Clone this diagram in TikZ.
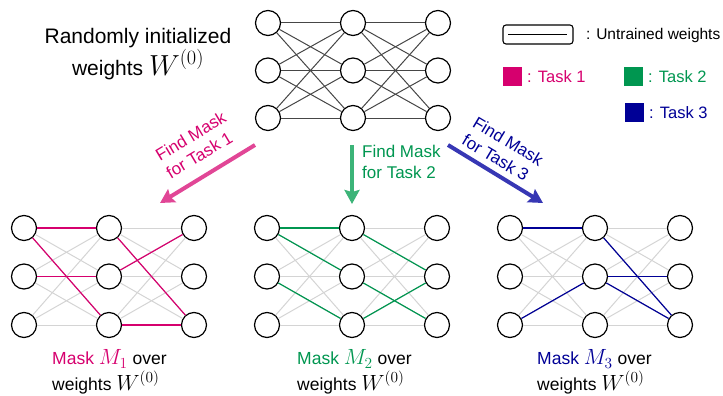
\RequirePackage{fix-cm}
\documentclass[tikz,border=0pt]{standalone}
\usepackage{fontspec}
\setmainfont{Liberation Sans}
\usetikzlibrary{arrows.meta}
\definecolor{tone}{RGB}{214,0,110}
\definecolor{ttwo}{RGB}{0,150,80}
\definecolor{tthree}{RGB}{0,0,150}
\definecolor{aone}{RGB}{225,70,150}
\definecolor{atwo}{RGB}{60,180,120}
\definecolor{athree}{RGB}{55,55,180}
\definecolor{edgedark}{RGB}{70,70,70}
\definecolor{edgelight}{RGB}{212,212,212}
\newcommand{\bigmath}[1]{{\fontsize{29}{32}\selectfont$#1$}}
\newcommand{\midmath}[1]{{\fontsize{22}{26}\selectfont$#1$}}
\tikzset{
  neuron/.style={circle,draw=black,line width=1.2pt,minimum size=25pt,inner sep=0pt,fill=white},
  darkedge/.style={draw=edgedark,line width=1pt},
  lightedge/.style={draw=edgelight,line width=1pt},
  maskedge/.style={line width=1.2pt},
  bigarrow/.style={line width=4pt,-{Stealth[length=14pt,width=15pt,inset=2pt]}},
  arrowlabel/.style={font=\fontsize{17}{20.5}\selectfont,align=left,inner sep=0pt},
  masklabel/.style={font=\fontsize{17.5}{26}\selectfont,align=left,anchor=west,inner sep=0pt},
  legsq/.style={minimum size=19pt,inner sep=0pt,anchor=north west},
  legtext/.style={font=\fontsize{16.5}{19}\selectfont,anchor=west,inner sep=0pt}
}
\newcommand{\mknet}[4]{% prefix, x0, y0, dy
  \foreach \c in {1,2,3}{
    \foreach \r in {1,2,3}{
      \node[neuron] (#1-\c-\r) at ({#2+(\c-1)*85},{#3+(\r-1)*#4}) {};
    }
  }
}
\begin{document}
\begin{tikzpicture}[x=1pt,y=-1pt]
\useasboundingbox (0,0) rectangle (723,396);
% top network
\mknet{t}{268}{23}{47.5}
\foreach \r in {1,2,3}{\foreach \s in {1,2,3}{
  \draw[darkedge] (t-1-\r) -- (t-2-\s);
  \draw[darkedge] (t-2-\r) -- (t-3-\s);
}}
% bottom networks
\mknet{a}{24}{228}{48.5}
\mknet{b}{267}{228}{48.5}
\mknet{c}{510}{228}{48.5}
\foreach \p in {a,b,c}{
 \foreach \r in {1,2,3}{\foreach \s in {1,2,3}{
  \draw[lightedge] (\p-1-\r) -- (\p-2-\s);
  \draw[lightedge] (\p-2-\r) -- (\p-3-\s);
 }}
}
% mask 1
\draw[maskedge,tone] (a-1-1) -- (a-2-1);
\draw[maskedge,tone] (a-1-1) -- (a-2-3);
\draw[maskedge,tone] (a-1-2) -- (a-2-2);
\draw[maskedge,tone] (a-2-1) -- (a-3-3);
\draw[maskedge,tone] (a-2-2) -- (a-3-1);
\draw[maskedge,tone] (a-2-3) -- (a-3-3);
% mask 2
\draw[maskedge,ttwo] (b-1-1) -- (b-2-1);
\draw[maskedge,ttwo] (b-1-1) -- (b-2-2);
\draw[maskedge,ttwo] (b-1-2) -- (b-2-3);
\draw[maskedge,ttwo] (b-2-1) -- (b-3-2);
\draw[maskedge,ttwo] (b-2-2) -- (b-3-3);
\draw[maskedge,ttwo] (b-2-3) -- (b-3-2);
% mask 3
\draw[maskedge,tthree] (c-1-1) -- (c-2-1);
\draw[maskedge,tthree] (c-1-3) -- (c-2-2);
\draw[maskedge,tthree] (c-2-1) -- (c-3-3);
\draw[maskedge,tthree] (c-2-2) -- (c-3-2);
\draw[maskedge,tthree] (c-2-2) -- (c-3-3);
% title
\node[font=\fontsize{21}{32}\selectfont,align=center,inner sep=0pt] (title) at (138,54)
  {Randomly initialized\\weights \bigmath{W^{(0)}}};
% arrows
\coordinate (s1) at (255,145); \coordinate (e1) at (160,203);
\coordinate (s2) at (352,145); \coordinate (e2) at (352,204);
\coordinate (s3) at (448,145); \coordinate (e3) at (543,203);
\draw[bigarrow,aone] (s1) -- (e1);
\draw[bigarrow,atwo] (s2) -- (e2);
\draw[bigarrow,athree] (s3) -- (e3);
\node[arrowlabel,tone,rotate=31] (l1) at (196,145) {Find Mask\\for Task 1};
\node[arrowlabel,ttwo,anchor=west] (l2) at (362,162) {Find Mask\\for Task 2};
\node[arrowlabel,tthree,rotate=-31] (l3) at (503,150) {Find Mask\\for Task 3};
% bottom labels
\node[masklabel] (m1) at (52,372) {\textcolor{tone}{Mask \midmath{M_1}} over\\weights \midmath{W^{(0)}}};
\node[masklabel] (m2) at (297,372) {\textcolor{ttwo}{Mask \midmath{M_2}} over\\weights \midmath{W^{(0)}}};
\node[masklabel] (m3) at (537,372) {\textcolor{tthree}{Mask \midmath{M_3}} over\\weights \midmath{W^{(0)}}};
% legend
\draw[line width=1.1pt,rounded corners=3pt] (503,25) rectangle (573,44);
\coordinate (ul) at (508,34.5); \coordinate (ur) at (567,34.5);
\draw[line width=1.1pt] (ul) -- (ur);
\node[font=\fontsize{15.5}{18}\selectfont,anchor=west,inner sep=0pt] (lu) at (586,35) {: Untrained weights};
\node[legsq,fill=tone] (q1) at (503,67) {};
\node[legtext,tone] (q1t) at (527,76.5) {: Task 1};
\node[legsq,fill=ttwo] (q2) at (624,67) {};
\node[legtext,ttwo] (q2t) at (648,76.5) {: Task 2};
\node[legsq,fill=tthree] (q3) at (625,103) {};
\node[legtext,tthree] (q3t) at (649,112.5) {: Task 3};
\end{tikzpicture}
\end{document}
